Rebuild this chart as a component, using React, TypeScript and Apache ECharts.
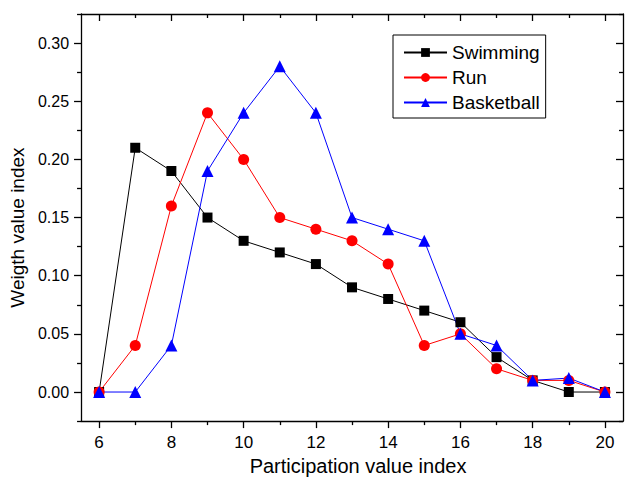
import React, { useEffect, useRef } from "react";
import * as echarts from "echarts";

const xs = [6, 7, 8, 9, 10, 11, 12, 13, 14, 15, 16, 17, 18, 19, 20];
const swimming = [0, 0.21, 0.19, 0.15, 0.13, 0.12, 0.11, 0.09, 0.08, 0.07, 0.06, 0.03, 0.01, 0.0, 0.0];
const run = [0, 0.04, 0.16, 0.24, 0.2, 0.15, 0.14, 0.13, 0.11, 0.04, 0.05, 0.02, 0.01, 0.01, 0.0];
const basketball = [0, 0, 0.04, 0.19, 0.24, 0.28, 0.24, 0.15, 0.14, 0.13, 0.05, 0.04, 0.01, 0.012, 0.0];
const xMajor = [6, 8, 10, 12, 14, 16, 18, 20];
const xMinor = [7, 9, 11, 13, 15, 17, 19];
const yMajor = [0, 0.05, 0.1, 0.15, 0.2, 0.25, 0.3];
const yMinor = [-0.025, 0.025, 0.075, 0.125, 0.175, 0.225, 0.275, 0.325];

const FONT = "Liberation Sans, Arial, sans-serif";

export default function App() {
  const ref = useRef<HTMLDivElement>(null);
  useEffect(() => {
    if (!ref.current) return;
    const chart = echarts.init(ref.current, undefined, { renderer: "svg" });
    const line = { lineStyle: { color: "#000", width: 1.3 } };
    const xBase = { type: "value", min: 5.5, max: 20.5, splitLine: { show: false } };
    const yBase = { type: "value", min: -0.025, max: 0.325, splitLine: { show: false } };
    const mk = (name: string, data: number[], color: string, symbol: string, size: number) => ({
      name,
      type: "line",
      data: xs.map((x, i) => [x, data[i]]),
      symbol,
      symbolSize: size,
      showSymbol: true,
      lineStyle: { color, width: 1 },
      itemStyle: { color },
      xAxisIndex: 0,
      yAxisIndex: 0,
    });
    chart.setOption({
      animation: false,
      textStyle: { fontFamily: FONT },
      grid: { left: 80, top: 14, width: 543, height: 418, containLabel: false },
      legend: {
        orient: "vertical",
        left: 393,
        top: 35,
        itemWidth: 43,
        itemHeight: 11,
        itemGap: 6,
        padding: [8, 6, 6, 10],
        borderColor: "#000",
        borderWidth: 1,
        textStyle: { fontSize: 19, color: "#000", fontFamily: FONT },
        data: ["Swimming", "Run", "Basketball"],
      },
      xAxis: [
        {
          ...xBase,
          position: "bottom",
          name: "Participation value index",
          nameLocation: "middle",
          nameGap: 31,
          nameTextStyle: { fontSize: 20, color: "#000", fontFamily: FONT, padding: [0, 0, 0, 12] },
          axisLine: { show: true, onZero: false, ...line },
          axisTick: { show: true, inside: false, length: 7, customValues: xMajor, ...line },
          axisLabel: { show: true, customValues: xMajor, fontSize: 17, color: "#000", margin: 13, fontFamily: FONT },
        },
        {
          ...xBase,
          position: "bottom",
          axisLine: { show: false, onZero: false },
          axisTick: { show: true, inside: false, length: 4, customValues: xMinor, ...line },
          axisLabel: { show: false },
        },
        {
          ...xBase,
          position: "top",
          axisLine: { show: true, onZero: false, ...line },
          axisTick: { show: true, inside: true, length: 7, customValues: xMajor, ...line },
          axisLabel: { show: false },
        },
        {
          ...xBase,
          position: "top",
          axisLine: { show: false, onZero: false },
          axisTick: { show: true, inside: true, length: 4, customValues: xMinor, ...line },
          axisLabel: { show: false },
        },
      ],
      yAxis: [
        {
          ...yBase,
          position: "left",
          name: "Weigth value index",
          nameLocation: "middle",
          nameGap: 50,
          nameRotate: 90,
          nameTextStyle: { fontSize: 19, color: "#000", fontFamily: FONT, padding: [0, 20, 0, 0] },
          axisLine: { show: true, onZero: false, ...line },
          axisTick: { show: true, inside: false, length: 7, customValues: yMajor, ...line },
          axisLabel: {
            show: true,
            customValues: yMajor,
            fontSize: 16,
            color: "#000",
            margin: 12,
            fontFamily: FONT,
            formatter: (v: number) => v.toFixed(2),
          },
        },
        {
          ...yBase,
          position: "left",
          axisLine: { show: false, onZero: false },
          axisTick: { show: true, inside: false, length: 4, customValues: yMinor, ...line },
          axisLabel: { show: false },
        },
        {
          ...yBase,
          position: "right",
          axisLine: { show: true, onZero: false, ...line },
          axisTick: { show: true, inside: true, length: 7, customValues: yMajor, ...line },
          axisLabel: { show: false },
        },
        {
          ...yBase,
          position: "right",
          axisLine: { show: false, onZero: false },
          axisTick: { show: true, inside: true, length: 4, customValues: yMinor, ...line },
          axisLabel: { show: false },
        },
      ],
      series: [
        mk("Swimming", swimming, "#000000", "rect", 10),
        mk("Run", run, "#ff0000", "circle", 11),
        mk("Basketball", basketball, "#0000ff", "triangle", 12),
      ],
    });
    return () => chart.dispose();
  }, []);
  return <div ref={ref} style={{ width: 625, height: 481, position: "absolute", left: 0, top: 0, background: "#fff" }} />;
}
